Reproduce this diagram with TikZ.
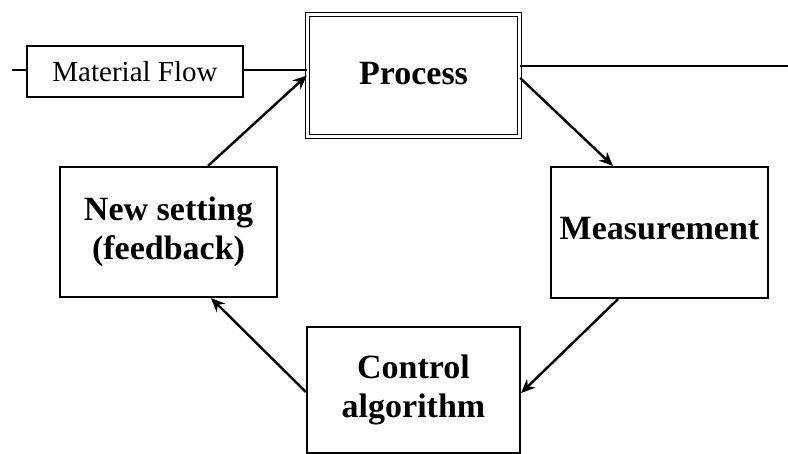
\documentclass[tikz,border=0pt]{standalone}
\usepackage{fontspec}
\setmainfont{Liberation Serif}
\usetikzlibrary{arrows.meta}
\begin{document}
\begin{tikzpicture}[x=1pt,y=-1pt,
  box/.style={draw=black,line width=2.2pt,align=center,inner sep=0pt,font=\fontsize{34}{39}\selectfont\bfseries},
  flowbox/.style={draw=black,line width=2pt,inner sep=0pt,font=\fontsize{29}{32}\selectfont},
  conn/.style={line width=2.4pt},
  arr/.style={line width=2.4pt,-{Stealth[length=14pt,width=12pt]}}]
\useasboundingbox (0,0) rectangle (788,454);
\node[flowbox,minimum width=216pt,minimum height=51pt] (mf) at (135,71.5) {Material Flow};
\node[draw=black,line width=1.4pt,double,double distance=2.4pt,align=center,inner sep=0pt,
      font=\fontsize{34}{39}\selectfont\bfseries,minimum width=212pt,minimum height=122pt] (proc) at (413.5,75.5) {\raisebox{4pt}{Process}};
\node[box,minimum width=217pt,minimum height=131pt] (meas) at (659.5,232.5) {\raisebox{8pt}{Measurement}};
\node[box,minimum width=213pt,minimum height=126pt] (ctrl) at (413.5,390) {Control\\algorithm};
\node[box,minimum width=217pt,minimum height=130pt] (ns) at (168.5,232) {New setting\\(feedback)};
\coordinate (lstub) at (12,70);
\coordinate (rend) at (788,66);
\draw[conn] (lstub) -- (mf.west |- lstub);
\draw[conn] ([yshift=1.5pt]mf.east) -- ([yshift=1.5pt]proc.west |- mf.east);
\draw[conn] ([yshift=9.5pt]proc.east) -- (rend);
\draw[arr] ([xshift=39.5pt]ns.north) -- (proc.west);
\draw[arr] ([yshift=-2.5pt]proc.east) -- ([xshift=-46.5pt]meas.north);
\draw[arr] ([xshift=-41.5pt]meas.south) -- ([yshift=-3pt]ctrl.east);
\draw[arr] ([yshift=-2pt]ctrl.west) -- ([xshift=42.5pt]ns.south);
\end{tikzpicture}
\end{document}
